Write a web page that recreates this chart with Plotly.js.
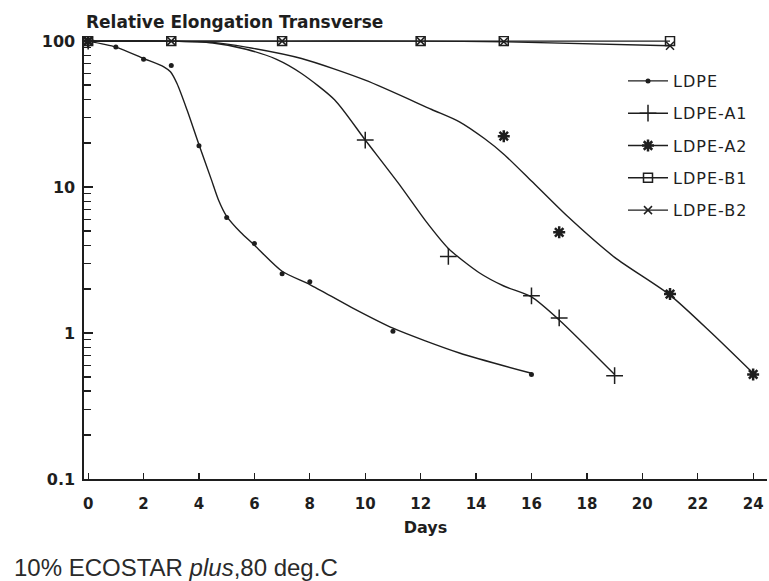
<!DOCTYPE html>
<html>
<head>
<meta charset="utf-8">
<script src="https://cdn.plot.ly/plotly-3.0.1.min.js"></script>
<style>
  html, body { margin: 0; padding: 0; background: #fff; }
  #chart { width: 769px; height: 581px; }
  .legendtext { letter-spacing: 1px; }
</style>
</head>
<body>
<div id="chart"></div>
<script>
// ---- data (days, relative elongation %) ----
const ldpeDays   = [0, 1, 2, 3, 4, 5, 6, 7, 8, 11, 16];
const ldpeValues = [100, 91, 75, 68, 19.2, 6.2, 4.1, 2.55, 2.25, 1.03, 0.52];
const ldpeCurveDays   = [0, 1, 2, 2.73, 2.97, 3.21, 3.57, 4, 4.45, 4.7, 5, 5.5, 6, 7, 8, 9.5, 11, 13.4, 16];
const ldpeCurveValues = [100, 91, 76, 66.7, 61.6, 51, 33.7, 19.5, 11.2, 8.2, 6.3, 4.9, 4.0, 2.65, 2.15, 1.5, 1.08, 0.73, 0.53];

const a1Days   = [0, 10, 13, 16, 17, 19];
const a1Values = [100, 21, 3.35, 1.8, 1.27, 0.51];
const a1CurveDays   = [0, 3, 4.5, 5.7, 6.8, 7.7, 8.9, 10, 11.3, 12.2, 13, 14.1, 15, 16, 17, 19];
const a1CurveValues = [100, 100, 97, 88, 75, 60, 39.5, 21, 10, 5.8, 3.8, 2.6, 2.1, 1.77, 1.23, 0.52];

const a2Days   = [0, 15, 17, 21, 24];
const a2Values = [100, 22.3, 4.9, 1.85, 0.52];
const a2CurveDays   = [0, 3, 4.5, 5.7, 7.7, 10, 12.4, 13.4, 14.3, 15, 16, 17.3, 19, 21, 22.5, 24];
const a2CurveValues = [100, 100, 98, 91, 76, 54, 34, 28, 21.5, 16.8, 11, 6.3, 3.3, 1.82, 1.0, 0.53];

const b1Days   = [0, 3, 7, 12, 15, 21];
const b1Values = [100, 100, 100, 100, 100, 100];
const b2Days   = [0, 3, 7, 12, 15, 21];
const b2Values = [100, 100, 100, 100, 99, 93];

const seriesNames = ['LDPE', 'LDPE-A1', 'LDPE-A2', 'LDPE-B1', 'LDPE-B2'];
const yTickVals  = [0.1, 1, 10, 100];
const yTickText  = ['0.1', '1', '10', '100'];
const yMinorVals = [0.2, 0.3, 0.4, 0.5, 0.6, 0.7, 0.8, 0.9, 2, 3, 4, 5, 6, 7, 8, 9, 20, 30, 40, 50, 60, 70, 80, 90];
const xTickVals  = [0, 2, 4, 6, 8, 10, 12, 14, 16, 18, 20, 22, 24];

// ---- styles ----
const ink = '#1e1e1e';
const lineStyle = {color: ink, width: 1.4, shape: 'spline', smoothing: 0.7};
const markerStyles = [
  {symbol: 'circle', size: 5, color: ink},
  {symbol: 'cross-thin-open', size: 12, color: ink, line: {color: ink, width: 1.5}},
  {symbol: 'asterisk-open', size: 10, color: ink, line: {color: ink, width: 2.5}},
  {symbol: 'square-open', size: 9, color: ink, line: {color: ink, width: 1.5}},
  {symbol: 'x-thin-open', size: 8, color: ink, line: {color: ink, width: 1.5}}
];

const curves = [
  [ldpeCurveDays, ldpeCurveValues],
  [a1CurveDays, a1CurveValues],
  [a2CurveDays, a2CurveValues],
  [b1Days, b1Values],
  [b2Days, b2Values]
];
const points = [
  [ldpeDays, ldpeValues],
  [a1Days, a1Values],
  [a2Days, a2Values],
  [b1Days, b1Values],
  [b2Days, b2Values]
];

const traces = [];
curves.forEach((c) => {
  traces.push({
    x: c[0], y: c[1], mode: 'lines', type: 'scatter',
    line: lineStyle, showlegend: false, hoverinfo: 'skip'
  });
});
points.forEach((p, i) => {
  traces.push({
    x: p[0], y: p[1], mode: 'markers', type: 'scatter', name: seriesNames[i],
    marker: markerStyles[i], showlegend: false
  });
});
// legend entries (line + symbol); placed on the minor-tick overlay axis
seriesNames.forEach((n, i) => {
  traces.push({
    x: [null], y: [null], mode: 'lines+markers', type: 'scatter', name: n,
    legendgroup: 'g' + i, yaxis: 'y2',
    line: {color: ink, width: 1.4}, marker: markerStyles[i]
  });
});

const tickFont = {family: 'DejaVu Sans', size: 16, color: ink, weight: 'bold'};
const yRange = [-1, 2.035];
const plotTop = 36, plotBottom = 581 - 102;       // pixel rows of plot area
const plotLeft = 84, plotWidth = 769 - 84 - 2;
const paperY = (py) => (plotBottom - py) / (plotBottom - plotTop);
const paperX = (px) => (px - plotLeft) / plotWidth;

const layout = {
  width: 769, height: 581, autosize: false,
  margin: {l: 84, r: 2, t: 36, b: 102},
  title: {
    text: 'Relative Elongation Transverse',
    font: {family: 'DejaVu Sans', size: 17, color: ink, weight: 'bold'},
    xref: 'container', x: 86 / 769, xanchor: 'left',
    yref: 'container', y: 1 - 22 / 581, yanchor: 'middle'
  },
  xaxis: {
    range: [-0.15, 24.5], showgrid: false, zeroline: false,
    showline: true, linecolor: ink, linewidth: 1.6,
    ticks: 'inside', ticklen: 6, tickwidth: 1.3, tickcolor: ink,
    tickmode: 'array', tickvals: xTickVals,
    tickfont: {family: 'DejaVu Sans', size: 15, color: ink, weight: 'bold'},
    ticklabelstandoff: 10,
    title: {text: 'Days', font: {family: 'DejaVu Sans', size: 16, color: ink, weight: 'bold'}, standoff: 10}
  },
  yaxis: {
    type: 'log', range: yRange, showgrid: false, zeroline: false,
    showline: true, linecolor: ink, linewidth: 1.6,
    ticks: 'inside', ticklen: 9, tickwidth: 1.5, tickcolor: ink,
    tickmode: 'array', tickvals: yTickVals, ticktext: yTickText,
    tickfont: tickFont, ticklabelstandoff: 4
  },
  yaxis2: {
    type: 'log', range: yRange, overlaying: 'y', anchor: 'x', side: 'left',
    showgrid: false, zeroline: false, showline: false,
    ticks: 'inside', ticklen: 7, tickwidth: 1.3, tickcolor: ink,
    tickmode: 'array', tickvals: yMinorVals, showticklabels: false
  },
  showlegend: true,
  legend: {
    x: paperX(623), xanchor: 'left',
    y: paperY(64), yanchor: 'top',
    bgcolor: 'rgba(0,0,0,0)', borderwidth: 0,
    font: {family: 'DejaVu Sans', size: 16, color: ink},
    tracegroupgap: 8.5, itemwidth: 40
  },
  annotations: [{
    text: '10% ECOSTAR <i>plus</i>,80 deg.C',
    xref: 'paper', yref: 'paper',
    x: paperX(12), xanchor: 'left',
    y: paperY(567), yanchor: 'middle',
    showarrow: false,
    font: {family: 'Liberation Sans', size: 24, color: '#2a2a2a'}
  }]
};

Plotly.newPlot('chart', traces, layout, {displayModeBar: false, staticPlot: true});
</script>
</body>
</html>
